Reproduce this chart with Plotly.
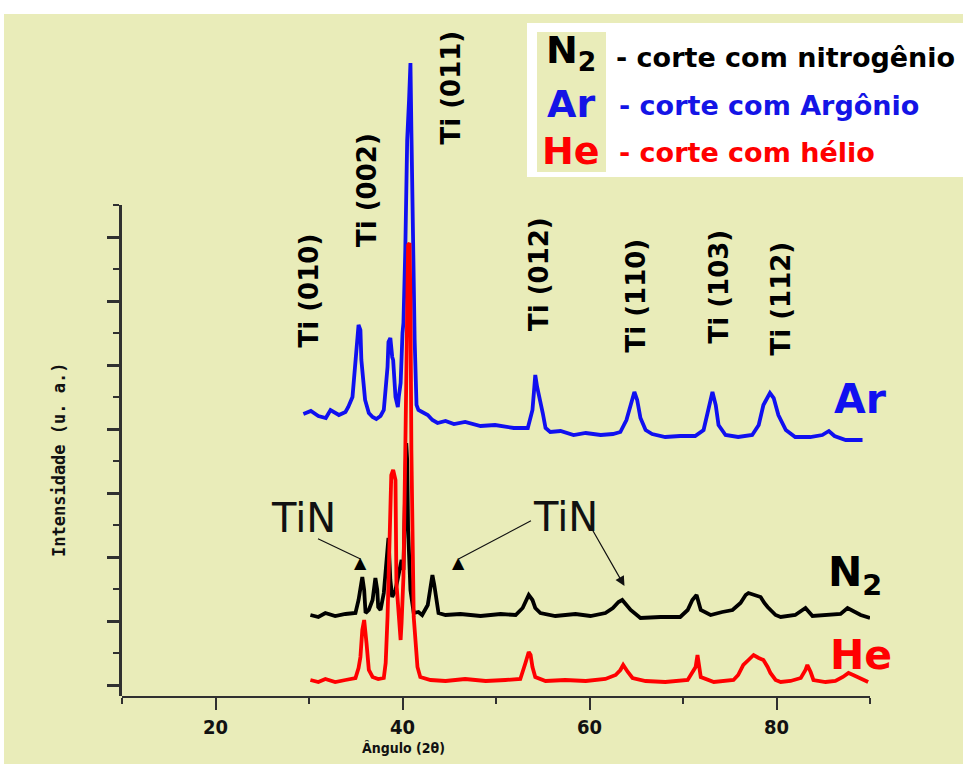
import plotly.graph_objects as go

# ---------------------------------------------------------------
# XRD patterns of titanium cut with different assist gases
# 2-theta in degrees, intensity in arbitrary units (before stacking)
# ---------------------------------------------------------------
ar_2theta = [29.4, 30.2, 31.0, 31.8, 32.3, 33.2, 33.9, 34.2, 34.65, 34.9, 35.1, 35.3,
             35.5, 35.6, 35.8, 36.0, 36.4, 36.8, 37.2, 37.65, 38.0, 38.2, 38.4, 38.5,
             38.7, 38.9, 39.0, 39.25, 39.5, 39.6, 39.8, 40.0, 40.1, 40.3, 40.4, 40.5,
             40.7, 40.85, 40.95, 41.05, 41.2, 41.3, 41.5, 41.7, 42.1, 42.7, 43.2, 43.75,
             44.6, 45.5, 46.7, 48.35, 49.9, 51.9, 53.4, 53.9, 54.1, 54.2, 54.4, 54.65,
             55.0, 55.3, 55.8, 56.9, 58.3, 59.6, 61.2, 62.5, 63.3, 63.95, 64.4, 64.8,
             65.1, 65.45, 66.0, 66.7, 68.1, 69.7, 71.3, 72.2, 72.7, 73.15, 73.5, 73.8,
             74.55, 75.9, 77.4, 78.1, 78.6, 79.3, 79.7, 80.2, 81.0, 82.0, 83.6, 84.9,
             85.6, 86.2, 87.4, 88.45, 89.2]
ar_int = [31, 34, 29, 27, 35, 30, 33, 38, 48, 78, 108, 120,
          115, 85, 65, 45, 32, 28, 26, 29, 35, 55, 78, 103,
          107, 88, 85, 48, 38, 48, 62, 112, 122, 195, 255, 305,
          345, 382, 315, 235, 185, 105, 40, 35, 33, 30, 25, 22,
          24, 21, 23, 19, 20, 17, 17, 35, 58, 70, 58, 45,
          32, 17, 13, 14, 10, 12, 10, 11, 13, 25, 40, 53,
          45, 27, 15, 11, 8, 9, 9, 15, 35, 53, 40, 20,
          10, 8, 10, 20, 40, 52, 47, 30, 15, 8, 8, 10,
          14, 9, 5, 5, 5]

n2_2theta = [30.15, 31.0, 31.75, 32.8, 33.9, 34.97, 35.3, 35.5, 35.7, 35.9, 36.05, 36.4,
             36.8, 37.1, 37.3, 37.4, 37.65, 38.0, 38.3, 38.5, 38.7, 38.9, 39.25, 39.6,
             39.9, 40.1, 40.3, 40.4, 40.5, 40.6, 40.85, 41.2, 41.7, 42.1, 42.7, 43.0,
             43.2, 43.4, 43.6, 43.85, 44.6, 46.2, 48.35, 50.5, 52.1, 52.85, 53.5, 53.9,
             54.2, 54.75, 56.35, 58.5, 60.1, 61.7, 62.5, 63.1, 63.5, 63.95, 64.4, 65.45,
             67.6, 69.7, 70.5, 71.0, 71.45, 71.9, 72.95, 74.2, 75.3, 76.15, 76.7, 77.0,
             77.65, 78.3, 78.7, 79.05, 79.9, 80.45, 82.0, 83.1, 83.85, 85.25, 86.85, 87.6,
             88.45, 89.0, 90.0]
n2_int = [30, 28, 32, 29, 31, 32, 45, 60, 68, 55, 32, 35,
          45, 67, 55, 38, 35, 52, 85, 107, 65, 48, 55, 70,
          85, 75, 145, 202, 185, 115, 55, 32, 33, 30, 40, 60,
          70, 60, 45, 32, 30, 31, 29, 31, 30, 37, 50, 45,
          37, 32, 29, 31, 29, 32, 37, 43, 45, 40, 35, 27,
          28, 28, 35, 45, 50, 35, 30, 33, 35, 42, 50, 52,
          50, 48, 42, 38, 30, 28, 30, 37, 29, 30, 31, 37,
          33, 30, 27]

he_2theta = [30.15, 31.0, 31.75, 32.8, 33.9, 34.97, 35.3, 35.5, 35.7, 35.9, 36.15, 36.4,
             36.8, 37.4, 38.0, 38.2, 38.4, 38.6, 38.8, 39.0, 39.25, 39.35, 39.6, 39.8,
             39.9, 40.1, 40.3, 40.5, 40.6, 40.75, 40.85, 40.95, 41.2, 41.6, 41.9, 43.0,
             44.6, 46.7, 48.9, 51.0, 52.6, 53.15, 53.5, 53.7, 53.9, 54.2, 55.3, 57.4,
             59.6, 61.7, 62.8, 63.3, 63.6, 64.1, 64.6, 66.0, 68.1, 70.5, 71.0, 71.35,
             71.55, 71.9, 73.3, 74.55, 75.4, 75.9, 76.45, 77.0, 77.55, 78.1, 78.6, 79.05,
             79.35, 79.9, 80.45, 81.5, 82.6, 83.1, 83.3, 83.65, 83.95, 85.25, 86.3, 87.1,
             87.7, 88.2, 88.65, 89.2, 89.8]
he_int = [5, 3, 6, 3, 5, 7, 17, 28, 55, 65, 42, 15,
          8, 6, 7, 22, 68, 148, 210, 215, 205, 102, 62, 45,
          62, 108, 235, 385, 440, 442, 385, 235, 68, 18, 8, 5,
          4, 6, 4, 5, 6, 22, 33, 30, 18, 8, 4, 5,
          4, 6, 10, 15, 20, 13, 7, 4, 3, 5, 12, 18,
          30, 8, 3, 4, 5, 10, 20, 25, 30, 27, 25, 18,
          12, 5, 3, 4, 7, 15, 20, 13, 5, 3, 4, 8,
          12, 10, 8, 5, 3]

# stacking offsets (a.u.) for each pattern
offset_ar = 240
offset_n2 = 40
offset_he = 0

series_names = ["Ar", "N2", "He"]
series_colors = ["#1010f0", "#000000", "#ff0000"]

peak_labels = ["Ti (010)", "Ti (002)", "Ti (011)", "Ti (012)", "Ti (110)", "Ti (103)", "Ti (112)"]
legend_texts = ["- corte com nitrogênio", "- corte com Argônio", "- corte com hélio"]
x_ticks = [20, 40, 60, 80]

BG = "#e9ecb9"
AXIS = "#303030"
BOLD = "DejaVu Sans"
NARROW = "Liberation Sans Narrow, DejaVu Sans Condensed, Liberation Sans, sans-serif"

W, H = 963, 764
ML, MR, MT, MB = 122, 93, 30, 68
PW, PH = W - ML - MR, H - MT - MB


def px(xp):
    """figure pixel x -> paper x"""
    return (xp - ML) / PW


def py(yp):
    """figure pixel y -> paper y"""
    return (H - MB - yp) / PH


fig = go.Figure()

for name, xs, ys, off, col in [
    ("Ar", ar_2theta, ar_int, offset_ar, series_colors[0]),
    ("N2", n2_2theta, n2_int, offset_n2, series_colors[1]),
    ("He", he_2theta, he_int, offset_he, series_colors[2]),
]:
    fig.add_trace(go.Scatter(
        x=xs, y=[v + off for v in ys], mode="lines", name=name,
        line=dict(color=col, width=3.8), showlegend=False, hoverinfo="skip",
    ))

# empty trace that carries the visible intensity axis
fig.add_trace(go.Scatter(x=[None], y=[None], xaxis="x", yaxis="y2", mode="lines",
                         showlegend=False, hoverinfo="skip"))

# ---- axes ----
fig.update_layout(
    width=W, height=H,
    margin=dict(l=ML, r=MR, t=MT, b=MB),
    paper_bgcolor=BG, plot_bgcolor="rgba(0,0,0,0)",
    showlegend=False,
    xaxis=dict(
        range=[10, 90], showgrid=False, zeroline=False,
        showline=True, linecolor=AXIS, linewidth=2,
        tickmode="array", tickvals=x_ticks, ticks="outside",
        ticklen=12, tickwidth=2, tickcolor=AXIS,
        tickfont=dict(family=NARROW, size=20, color="#111", weight="bold"),
        minor=dict(tickvals=[10, 30, 50, 70, 90], ticks="outside", ticklen=6,
                   tickwidth=2, tickcolor=AXIS),
        anchor="y",
    ),
    yaxis=dict(
        range=[-11, H - MB - MT - 11], showgrid=False, zeroline=False,
        showline=False, showticklabels=False, ticks="",
    ),
    yaxis2=dict(
        domain=[0, (480 + 11) / PH], range=[-11, 480], anchor="x",
        showgrid=False, zeroline=False, showline=True, linecolor=AXIS, linewidth=3,
        tickmode="array", tickvals=list(range(0, 449, 64)), ticks="outside",
        ticklen=12, tickwidth=2.5, tickcolor=AXIS, showticklabels=False,
        minor=dict(tickvals=list(range(32, 481, 64)), ticks="outside", ticklen=6,
                   tickwidth=2, tickcolor=AXIS),
    ),
)

shapes = [
    # white page border strips
    dict(type="rect", xref="paper", yref="paper", x0=-0.3, x1=1.3, y0=py(14), y1=1.2,
         fillcolor="white", line=dict(width=0), layer="above"),
    dict(type="rect", xref="paper", yref="paper", x0=-0.3, x1=px(4), y0=-0.2, y1=1.2,
         fillcolor="white", line=dict(width=0), layer="above"),
    # legend panel
    dict(type="rect", xref="paper", yref="paper", x0=px(527), x1=1.3, y0=py(177), y1=py(23),
         fillcolor="white", line=dict(width=0), layer="above"),
    dict(type="rect", xref="paper", yref="paper", x0=px(537), x1=px(606), y0=py(172), y1=py(32),
         fillcolor=BG, line=dict(width=0), layer="above"),
]
fig.update_layout(shapes=shapes)

ann = []

# reflection labels (vertical)
peak_pos = [(30.05, 395), (36.2, 495), (45.24, 598), (54.6, 411),
            (64.92, 389), (73.8, 398), (80.43, 386)]
for lab, (xx, yy) in zip(peak_labels, peak_pos):
    ann.append(dict(x=xx, y=yy, xref="x", yref="y", text=f"<b>{lab}</b>", textangle=-90,
                    showarrow=False, font=dict(family=BOLD, size=26, color="black"),
                    xanchor="center", yanchor="middle"))

# pattern names at the right
ann.append(dict(x=85.9, y=286, xref="x", yref="y", text="<b>Ar</b>", showarrow=False,
                xanchor="left", yanchor="middle",
                font=dict(family=BOLD, size=41, color=series_colors[0])))
ann.append(dict(x=85.3, y=110, xref="x", yref="y", text="<b>N<sub>2</sub></b>", showarrow=False,
                xanchor="left", yanchor="middle",
                font=dict(family=BOLD, size=41, color=series_colors[1])))
ann.append(dict(x=85.5, y=30, xref="x", yref="y", text="<b>He</b>", showarrow=False,
                xanchor="left", yanchor="middle",
                font=dict(family=BOLD, size=41, color=series_colors[2])))

# TiN markers with arrows
ann.append(dict(x=29.4, y=167, xref="x", yref="y", text="TiN", showarrow=False,
                font=dict(family="DejaVu Sans", size=40, color="#111")))
ann.append(dict(x=57.43, y=168, xref="x", yref="y", text="TiN", showarrow=False,
                font=dict(family="DejaVu Sans", size=40, color="#111")))
for (tx, ty, hx, hy) in [(30.8, 147, 35.51, 126), (53.9, 165, 45.99, 126)]:
    ann.append(dict(x=hx, y=hy, ax=tx, ay=ty, xref="x", yref="y", axref="x", ayref="y",
                    text="", showarrow=True, arrowhead=0, arrowwidth=1.2, arrowcolor="#111"))
    ann.append(dict(x=hx, y=hy - 3, xref="x", yref="y", text="▲", showarrow=False,
                    font=dict(family="DejaVu Sans", size=16, color="black"),
                    xanchor="center", yanchor="middle"))
ann.append(dict(x=63.74, y=99, ax=60.2, ay=157, xref="x", yref="y", axref="x", ayref="y",
                text="", showarrow=True, arrowhead=2, arrowsize=1.6, arrowwidth=1.2,
                arrowcolor="#111"))

# legend panel content
big = [("<b>N<sub>2</sub></b>", series_colors[1], 52),
       ("<b>Ar</b>", "#1414e6", 104),
       ("<b>He</b>", series_colors[2], 151)]
for txt, col, yp in big:
    ann.append(dict(x=px(571), y=py(yp), xref="paper", yref="paper", text=txt, showarrow=False,
                    xanchor="center", yanchor="middle",
                    font=dict(family=BOLD, size=38, color=col)))
leg_cols = ["#000000", "#1414e6", "#ff0000"]
leg_left = [614, 617, 617]
leg_y = [57, 106, 152]
for txt, col, xl, yp in zip(legend_texts, leg_cols, leg_left, leg_y):
    ann.append(dict(x=px(xl), y=py(yp), xref="paper", yref="paper", text=f"<b>{txt}</b>",
                    showarrow=False, xanchor="left", yanchor="middle",
                    font=dict(family=BOLD, size=27, color=col)))

# axis titles
ann.append(dict(x=px(403), y=py(748), xref="paper", yref="paper", text="<b>Ângulo (2θ)</b>",
                showarrow=False, xanchor="center", yanchor="middle",
                font=dict(family=NARROW, size=14, color="#111")))
ann.append(dict(x=px(59), y=py(460), xref="paper", yref="paper", text="<b>Intensidade (u. a.)</b>",
                showarrow=False, xanchor="center", yanchor="middle", textangle=-90,
                font=dict(family="DejaVu Sans Mono", size=17, color="#111")))

fig.update_layout(annotations=ann)

fig.write_html("out.html")
